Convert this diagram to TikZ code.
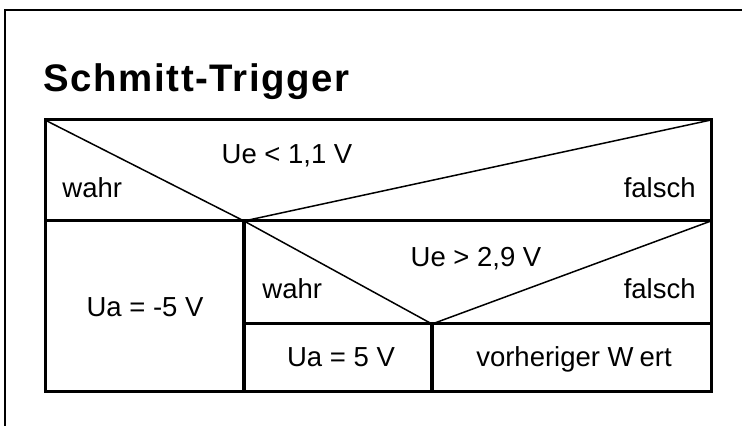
\documentclass[tikz,border=0pt]{standalone}
\usepackage{fontspec}
\setmainfont{Liberation Sans}
\begin{document}
\begin{tikzpicture}[x=0.5pt,y=-0.5pt,
  framelines/.style={line width=1pt},
  boxlines/.style={line width=1.5pt, line cap=rect},
  splitlines/.style={line width=2.2pt},
  diaglines/.style={line width=0.75pt},
  lbl/.style={font=\fontsize{13.75}{16}\selectfont, inner sep=0pt},
  headline/.style={font=\fontsize{19.2}{22}\bfseries\addfontfeature{LetterSpace=4}\selectfont, inner sep=0pt},
]
\useasboundingbox (0,0) rectangle (742,426);

% page frame (open at right and bottom)
\coordinate (FB) at (5,426);
\coordinate (FT) at (5,10);
\coordinate (FR) at (742,10);
\draw[framelines] (FB) -- (FT) -- (FR);

% title
\node[headline, anchor=base west] (title) at (43,92) {Schm\kern1pt itt-Trigger};

% structogram corners
\coordinate (TL) at (45,120);
\coordinate (TR) at (711,120);
\coordinate (ML) at (45,221);
\coordinate (MR) at (711,221);
\coordinate (BL) at (45,391);
\coordinate (BR) at (711,391);
\coordinate (A1) at (244,221);   % first decision vertex
\coordinate (A1b) at (244,391);
\coordinate (IL) at (244,324);
\coordinate (IR) at (711,324);
\coordinate (A2) at (432,324);   % second decision vertex
\coordinate (A2b) at (432,391);

% decision triangles
\draw[diaglines] (TL) -- (A1) -- (TR);
\draw[diaglines] (A1) -- (A2) -- (MR);

% boxes
\draw[boxlines] (TL) -- (TR) -- (BR) -- (BL) -- cycle;
\draw[boxlines] (ML) -- (MR);
\draw[boxlines] (IL) -- (IR);
\draw[splitlines] (A1) -- (A1b);
\draw[splitlines] (A2) -- (A2b);

% labels
\node[lbl, anchor=base] (c1) at (287,164) {Ue < 1,1 V};
\node[lbl, anchor=base west] (w1) at (62,198) {wahr};
\node[lbl, anchor=base east] (f1) at (696,198) {falsch};
\node[lbl, anchor=base] (c2) at (476,267) {Ue > 2,9 V};
\node[lbl, anchor=base west] (w2) at (262,299) {wahr};
\node[lbl, anchor=base east] (f2) at (696,299) {falsch};
\node[lbl, anchor=base] (s1) at (145,317) {Ua = -5 V};
\node[lbl, anchor=base] (s2) at (341,366) {Ua = 5 V};
\node[lbl, anchor=base] (s3) at (574,366) {vorheriger W\kern3pt ert};
\end{tikzpicture}
\end{document}
